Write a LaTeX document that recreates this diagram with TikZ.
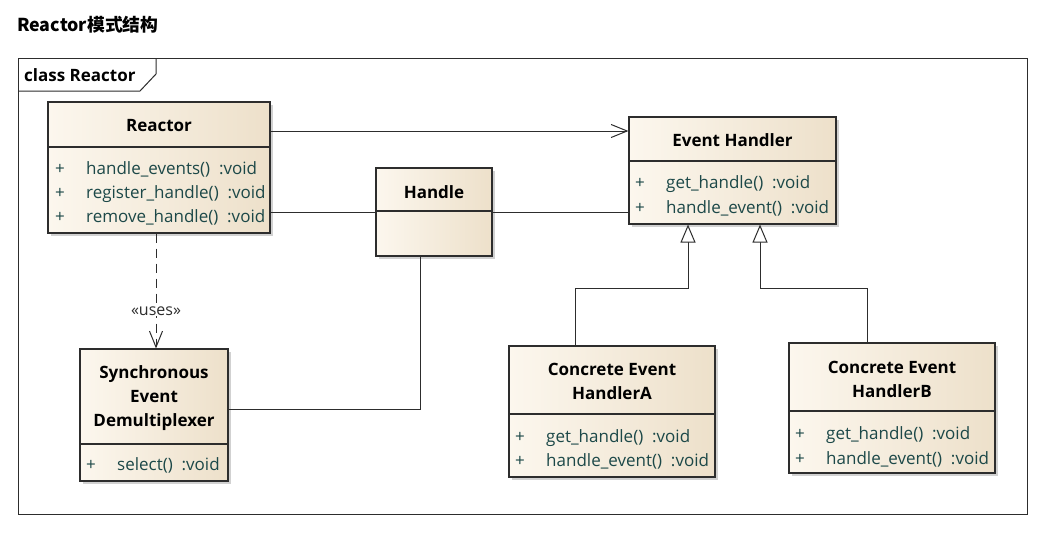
\documentclass[tikz,border=0pt]{standalone}
\usepackage{fontspec}
\setmainfont{Open Sans}
\newfontfamily\cjk{Noto Sans CJK SC}
\usetikzlibrary{arrows.meta,shadows}
\definecolor{c1}{RGB}{252,247,238}
\definecolor{c2}{RGB}{237,224,202}
\definecolor{boxline}{RGB}{45,45,45}
\definecolor{memb}{RGB}{28,72,72}
\begin{document}
\begin{tikzpicture}[x=1pt,y=-1pt,
 cls/.style={draw=boxline, line width=1.1pt, left color=c1, right color=c2, inner sep=0pt,
   drop shadow={shadow xshift=3pt, shadow yshift=-3pt, fill=black, opacity=0.18}},
 cname/.style={font=\fontsize{17}{24}\selectfont\bfseries, align=center, inner sep=0pt},
 mem/.style={font=\fontsize{17}{18}\selectfont, text=memb, anchor=base west, inner sep=0pt},
 divider/.style={draw=boxline, line width=1.1pt},
 conn/.style={draw=boxline, line width=1pt},
 openarrow/.style={-{Straight Barb[length=16pt,width=13pt,line width=1pt]}},
 gen/.style={-{Triangle[open,length=18pt,width=15pt,fill=white,line width=1pt]}}
]
\useasboundingbox (0,0) rectangle (1051,557);
\fill[white] (0,0) rectangle (1051,557);

% title
\node[anchor=base west, inner sep=0pt, font=\cjk\bfseries\fontsize{17.8}{20}\selectfont] (title) at (17,31) {Reactor模式结构};

% frame
\draw[boxline, line width=1pt] (18,58) rectangle (1027,514);
\draw[boxline, line width=1pt] (18,91) -- (140,91) -- (156,74) -- (156,58);
\node[anchor=base west, inner sep=0pt, font=\fontsize{17}{18}\selectfont\bfseries] (frametag) at (24,81) {class Reactor};

% classes
\node[cls, minimum width=222pt, minimum height=131pt] (reactor) at (159,167.5) {};
\node[cls, minimum width=116pt, minimum height=88pt] (handle) at (434,212) {};
\node[cls, minimum width=207pt, minimum height=107pt] (eh) at (732.5,170.5) {};
\node[cls, minimum width=148pt, minimum height=132pt] (sync) at (154,415) {};
\node[cls, minimum width=206pt, minimum height=131pt] (ca) at (612,411.5) {};
\node[cls, minimum width=206pt, minimum height=130pt] (cb) at (892,408) {};

% dividers
\draw[divider] (reactor.west |- 0,147) -- (reactor.east |- 0,147);
\draw[divider] (handle.west |- 0,211) -- (handle.east |- 0,211);
\draw[divider] (eh.west |- 0,161) -- (eh.east |- 0,161);
\draw[divider] (sync.west |- 0,444) -- (sync.east |- 0,444);
\draw[divider] (ca.west |- 0,414) -- (ca.east |- 0,414);
\draw[divider] (cb.west |- 0,411) -- (cb.east |- 0,411);

% class names
\node[cname] (reactorT) at (159,126) {Reactor};
\node[cname] (handleT) at (434,192) {Handle};
\node[cname] (ehT) at (732.5,140) {Event Handler};
\node[cname] (syncT) at (154,398) {Synchronous\\Event\\Demultiplexer};
\node[cname] (caT) at (612,381) {Concrete Event\\HandlerA};
\node[cname] (cbT) at (892,379) {Concrete Event\\HandlerB};

% members
\node[mem] (r1p) at (55,174) {+};
\node[mem] (r1) at (86,174) {handle\_events()\ \ :void};
\node[mem] (r2p) at (55,198) {+};
\node[mem] (r2) at (86,198) {register\_handle()\ \ :void};
\node[mem] (r3p) at (55,222) {+};
\node[mem] (r3) at (86,222) {remove\_handle()\ \ :void};

\node[mem] (e1p) at (635,188) {+};
\node[mem] (e1) at (666,188) {get\_handle()\ \ :void};
\node[mem] (e2p) at (635,213) {+};
\node[mem] (e2) at (666,213) {handle\_event()\ \ :void};

\node[mem] (s1p) at (86,470) {+};
\node[mem] (s1) at (117,470) {select()\ \ :void};

\node[mem] (a1p) at (515,442) {+};
\node[mem] (a1) at (546,442) {get\_handle()\ \ :void};
\node[mem] (a2p) at (515,466) {+};
\node[mem] (a2) at (546,466) {handle\_event()\ \ :void};

\node[mem] (b1p) at (795,439) {+};
\node[mem] (b1) at (826,439) {get\_handle()\ \ :void};
\node[mem] (b2p) at (795,464) {+};
\node[mem] (b2) at (826,464) {handle\_event()\ \ :void};

% connectors
\draw[conn, openarrow] (reactor.east |- 0,131) -- (eh.west |- 0,131);
\draw[conn] (reactor.east |- 0,212) -- (handle.west |- 0,212);
\draw[conn] (handle.east |- 0,212) -- (eh.west |- 0,212);
\draw[conn] (handle.south -| 420,0) -- (420,409) -- (sync.east |- 0,409);
\draw[conn, openarrow, dash pattern=on 9pt off 6pt] (reactor.south -| 156,0) -- (sync.north -| 156,0);
\node[inner sep=1pt, fill=white, font=\fontsize{16}{17}\selectfont, text=boxline] (uses) at (156,311) {«uses»};
\draw[conn, gen] (ca.north -| 575,0) -- (575,288) -- (688,288) -- (eh.south -| 688,0);
\draw[conn, gen] (cb.north -| 867,0) -- (867,288) -- (760,288) -- (eh.south -| 760,0);
\end{tikzpicture}
\end{document}
